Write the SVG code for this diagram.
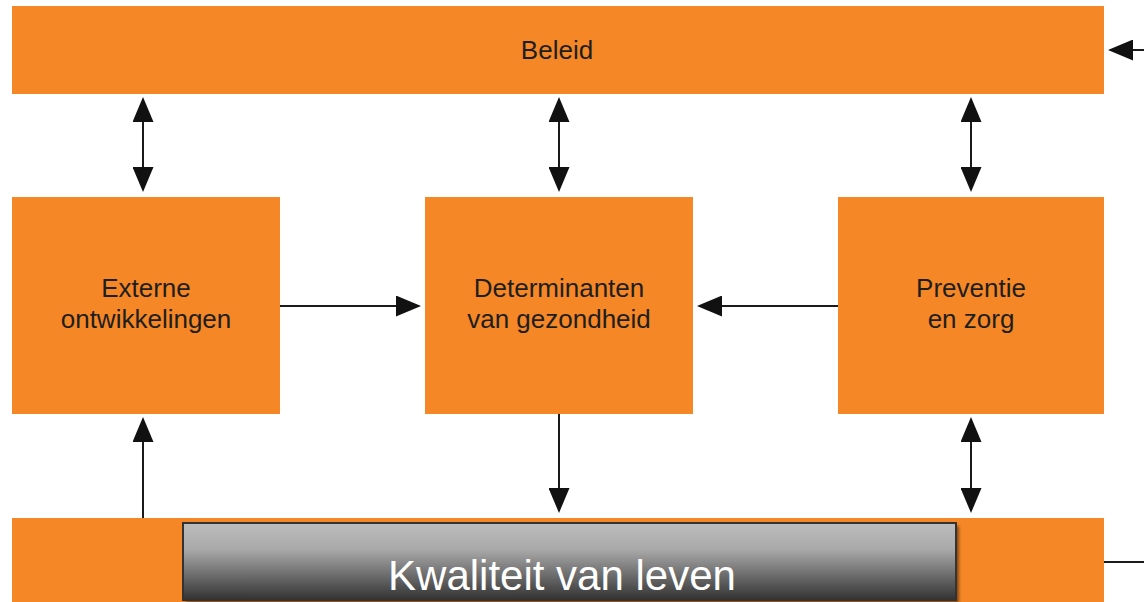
<svg xmlns="http://www.w3.org/2000/svg" width="1144" height="602" viewBox="0 0 1144 602">
<style>
.box{fill:#F58726}
.lbl{font-family:"Liberation Sans",Arial,sans-serif;font-size:26px;fill:#1e1e1e;text-anchor:middle}
.con{stroke:#1a1a1a;stroke-width:2;fill:none}
</style>
<defs>
<marker id="ah" viewBox="0 0 25 21" refX="23" refY="10.5" markerWidth="25" markerHeight="21" markerUnits="userSpaceOnUse" orient="auto-start-reverse">
<path d="M0,0 L25,10.5 L0,21 z" fill="#111"/>
</marker>
<linearGradient id="gg" x1="0" y1="0" x2="0" y2="1">
<stop offset="0" stop-color="#bdbdbd"/>
<stop offset="0.35" stop-color="#a8a8a8"/>
<stop offset="1" stop-color="#323232"/>
</linearGradient>
<filter id="sh" x="-5%" y="-20%" width="110%" height="140%">
<feGaussianBlur stdDeviation="1.5"/>
</filter>
</defs>
<rect width="1144" height="602" fill="#fff"/>
<g id="beleid">
<rect class="box" x="12" y="6" width="1092" height="88"/>
<text class="lbl" x="557" y="59">Beleid</text>
</g>
<g id="externe">
<rect class="box" x="12" y="197" width="268" height="217"/>
<text class="lbl" x="146" y="297">Externe</text>
<text class="lbl" x="146" y="328">ontwikkelingen</text>
</g>
<g id="determinanten">
<rect class="box" x="425" y="197" width="268" height="217"/>
<text class="lbl" x="559" y="297">Determinanten</text>
<text class="lbl" x="559" y="328">van gezondheid</text>
</g>
<g id="preventie">
<rect class="box" x="838" y="197" width="266" height="217"/>
<text class="lbl" x="971" y="297">Preventie</text>
<text class="lbl" x="971" y="328">en zorg</text>
</g>
<g id="kwaliteit">
<rect class="box" x="12" y="518" width="1092" height="84"/>
<rect x="186" y="526" width="773" height="77" fill="#000" opacity="0.45" filter="url(#sh)"/>
<rect x="183" y="523" width="773" height="77" fill="url(#gg)" stroke="#333" stroke-width="2"/>
<text x="562" y="590" font-family="'Liberation Sans',Arial,sans-serif" font-size="42" fill="#fff" text-anchor="middle">Kwaliteit van leven</text>
</g>
<g id="connectors">
<line class="con" x1="143" y1="99" x2="143" y2="190" marker-start="url(#ah)" marker-end="url(#ah)"/>
<line class="con" x1="559" y1="99" x2="559" y2="190" marker-start="url(#ah)" marker-end="url(#ah)"/>
<line class="con" x1="971" y1="99" x2="971" y2="190" marker-start="url(#ah)" marker-end="url(#ah)"/>
<line class="con" x1="280" y1="306" x2="419" y2="306" marker-end="url(#ah)"/>
<line class="con" x1="838" y1="306" x2="699" y2="306" marker-end="url(#ah)"/>
<line class="con" x1="143" y1="518" x2="143" y2="419" marker-end="url(#ah)"/>
<line class="con" x1="559" y1="414" x2="559" y2="511" marker-end="url(#ah)"/>
<line class="con" x1="971" y1="419" x2="971" y2="511" marker-start="url(#ah)" marker-end="url(#ah)"/>
<line class="con" x1="1144" y1="50" x2="1110" y2="50" marker-end="url(#ah)"/>
<line class="con" x1="1104" y1="562" x2="1144" y2="562"/>
</g>
</svg>
